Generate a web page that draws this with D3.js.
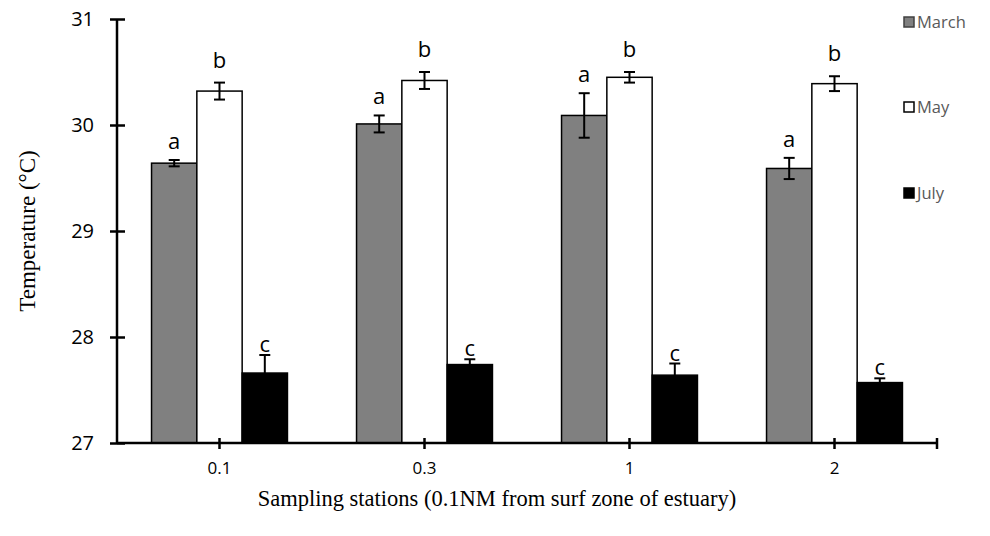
<!DOCTYPE html>
<html><head><meta charset="utf-8">
<script src="https://cdn.jsdelivr.net/npm/d3@7"></script>
<style>body{margin:0;background:#fff}svg{display:block}</style>
</head><body>
<svg id="c" width="990" height="536"></svg>
<script>
const categories = ["0.1", "0.3", "1", "2"];
const seriesNames = ["March", "May", "July"];
const marchValues = [29.64, 30.01, 30.09, 29.59];
const mayValues = [30.32, 30.42, 30.45, 30.39];
const julyValues = [27.66, 27.74, 27.64, 27.57];
const marchErrors = [0.03, 0.08, 0.21, 0.10];
const mayErrors = [0.08, 0.08, 0.05, 0.07];
const julyErrors = [0.17, 0.05, 0.11, 0.04];
const marchLetters = ["a", "a", "a", "a"];
const mayLetters = ["b", "b", "b", "b"];
const julyLetters = ["c", "c", "c", "c"];
const yTicks = [27, 28, 29, 30, 31];

const fills = {March: "#808080", May: "#ffffff", July: "#000000"};
const legendBorder = {March: "#404040", May: "#000000", July: "#000000"};
const labelOffset = {March: 11, May: 15, July: 3};

const series = [
  {name: "March", values: marchValues, errors: marchErrors, letters: marchLetters},
  {name: "May", values: mayValues, errors: mayErrors, letters: mayLetters},
  {name: "July", values: julyValues, errors: julyErrors, letters: julyLetters}
];

const svg = d3.select("#c");
const x0 = d3.scaleBand().domain(categories).range([117, 937]).paddingInner(0.337).paddingOuter(0.1685);
const x1 = d3.scaleBand().domain(seriesNames).range([0, x0.bandwidth()]);
const y = d3.scaleLinear().domain([27, 31]).range([443, 19]);
const sans = "'Open Sans', 'Noto Sans', sans-serif";
const serif = "'Liberation Serif', 'Times New Roman', serif";

const flat = [];
series.forEach(s => categories.forEach((c, i) => flat.push({s: s.name, c, v: s.values[i], e: s.errors[i], l: s.letters[i]})));

// bars
svg.append("g").selectAll("rect").data(flat).join("rect")
  .attr("x", d => x0(d.c) + x1(d.s))
  .attr("y", d => y(d.v))
  .attr("width", x1.bandwidth())
  .attr("height", d => y(27) - y(d.v))
  .attr("fill", d => fills[d.s])
  .attr("stroke", "#000").attr("stroke-width", 1.5);

// error bars
const eg = svg.append("g").attr("stroke", "#000").attr("stroke-width", 2);
flat.forEach(d => {
  const cx = x0(d.c) + x1(d.s) + x1.bandwidth() / 2;
  eg.append("line").attr("x1", cx).attr("x2", cx).attr("y1", y(d.v + d.e)).attr("y2", y(d.v - d.e));
  eg.append("line").attr("x1", cx - 5.5).attr("x2", cx + 5.5).attr("y1", y(d.v + d.e)).attr("y2", y(d.v + d.e));
  eg.append("line").attr("x1", cx - 5.5).attr("x2", cx + 5.5).attr("y1", y(d.v - d.e)).attr("y2", y(d.v - d.e));
});

// letters
svg.append("g").selectAll("text").data(flat).join("text")
  .attr("x", d => x0(d.c) + x1(d.s) + x1.bandwidth() / 2)
  .attr("y", d => y(d.v + d.e) - labelOffset[d.s])
  .attr("text-anchor", "middle")
  .attr("font-family", sans).attr("font-size", 22).attr("fill", "#000")
  .text(d => d.l);

// y axis
const ya = svg.append("g").attr("transform", "translate(117,0)")
  .call(d3.axisLeft(y).tickValues(yTicks).tickFormat(d3.format("d")).tickSize(7).tickPadding(16));
ya.select(".domain").attr("stroke-width", 2.5).attr("d", `M0,${y(31)}V${y(27)}`);
ya.selectAll(".tick line").attr("x1", -7).attr("x2", 8).attr("stroke-width", 2.5);
ya.selectAll(".tick text").attr("font-family", sans).attr("font-size", 20).attr("fill", "#000");

// x axis
const xa = svg.append("g").attr("transform", "translate(0,443)");
xa.append("line").attr("x1", 117).attr("x2", 937).attr("y1", 0).attr("y2", 0).attr("stroke", "#000").attr("stroke-width", 2.5);
const xtickPos = categories.map(c => x0(c) + x0.bandwidth() / 2).concat([x0.range()[1]]);
xa.selectAll("line.t").data(xtickPos).join("line").attr("class", "t")
  .attr("x1", d => d).attr("x2", d => d).attr("y1", -5).attr("y2", 6)
  .attr("stroke", "#000").attr("stroke-width", 2.5);
xa.selectAll("text").data(categories).join("text")
  .attr("x", c => x0(c) + x0.bandwidth() / 2).attr("y", 31)
  .attr("text-anchor", "middle").attr("font-family", sans).attr("font-size", 17).attr("fill", "#000")
  .text(c => c);

// axis titles
svg.append("text").attr("transform", "translate(35,231) rotate(-90)")
  .attr("text-anchor", "middle").attr("font-family", serif).attr("font-size", 23).attr("fill", "#000")
  .text("Temperature (°C)");
svg.append("text").attr("x", 497).attr("y", 506)
  .attr("text-anchor", "middle").attr("font-family", serif).attr("font-size", 22.5).attr("fill", "#000")
  .text("Sampling stations (0.1NM from surf zone of estuary)");

// legend
const lg = svg.append("g");
const legendY = [22, 107, 193];
seriesNames.forEach((n, i) => {
  lg.append("rect").attr("x", 904).attr("y", legendY[i] - 5).attr("width", 10).attr("height", 10)
    .attr("fill", fills[n]).attr("stroke", legendBorder[n]).attr("stroke-width", 1.5);
  lg.append("text").attr("x", 917).attr("y", legendY[i]).attr("dy", "0.36em")
    .attr("font-family", sans).attr("font-size", 16.5).attr("fill", "#595959").text(n);
});
</script>
</body></html>
